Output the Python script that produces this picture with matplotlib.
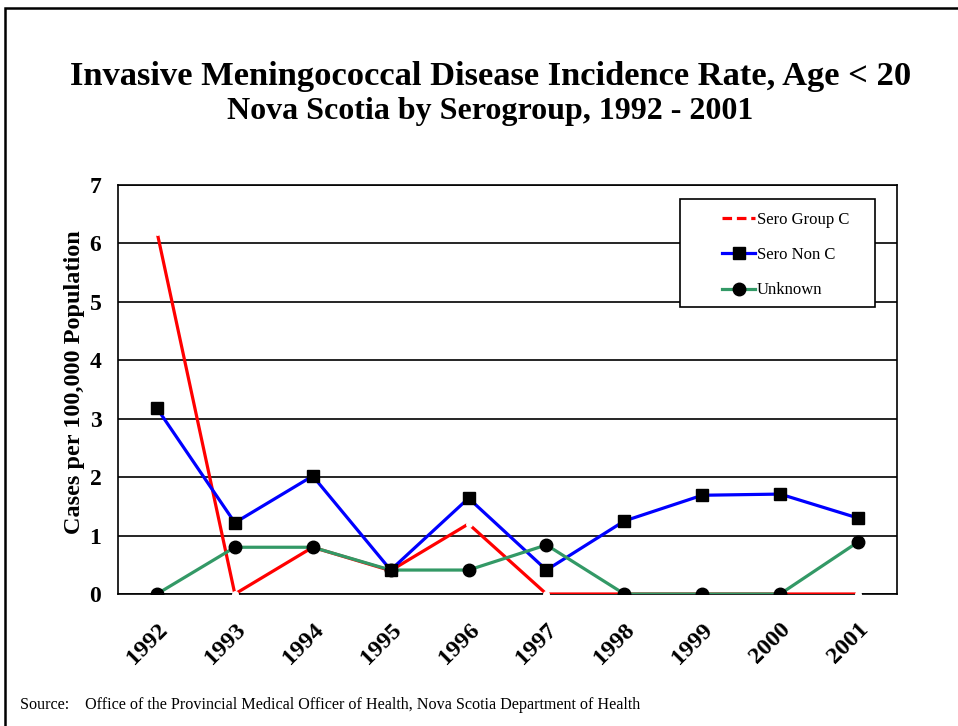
import numpy as np
import matplotlib
matplotlib.use("Agg")
import matplotlib.pyplot as plt
from matplotlib.lines import Line2D
from matplotlib.patches import Rectangle

# data
years = ["1992", "1993", "1994", "1995", "1996", "1997", "1998", "1999", "2000", "2001"]
sero_c = [6.2, 0.0, 0.8, 0.4, 1.2, 0.0, 0.0, 0.0, 0.0, 0.0]
sero_non_c = [3.18, 1.22, 2.02, 0.41, 1.64, 0.41, 1.25, 1.69, 1.71, 1.30]
unknown = [0.0, 0.80, 0.80, 0.41, 0.41, 0.84, 0.0, 0.0, 0.0, 0.89]

plt.rcParams['font.family'] = ['Liberation Serif', 'DejaVu Serif']

W, H = 958, 726
fig = plt.figure(figsize=(W / 100, H / 100), dpi=100)
ax = fig.add_axes([118 / W, 1 - 594 / H, 779 / W, 409 / H])

x = np.arange(len(years))

# Sero group C: solid red with small white gaps at the points
ax.plot(x, sero_c, color='#FF0000', lw=2.3, marker='o', ms=5,
        mfc='white', mec='white', mew=0, zorder=3)
ax.plot(x, sero_non_c, color='#0000FF', lw=2.3, marker='s', ms=8,
        mfc='black', mec='black', zorder=4)
ax.plot(x, unknown, color='#339966', lw=2.3, marker='o', ms=9,
        mfc='black', mec='black', zorder=5)

ax.set_xlim(-0.5, len(years) - 0.5)
ax.set_ylim(0, 7)
ax.set_yticks(range(0, 8))
ax.set_xticks(x)
ax.set_xticklabels(years, rotation=45, ha='right', va='top',
                   rotation_mode='anchor', fontsize=17.5, fontweight='bold')
for lab in ax.get_yticklabels():
    lab.set_fontsize(17)
    lab.set_fontweight('bold')
ax.tick_params(axis='both', length=0)
ax.tick_params(axis='x', pad=18)
ax.tick_params(axis='y', pad=12)
ax.grid(axis='y', color='black', lw=1.2)
ax.set_axisbelow(True)
for s in ax.spines.values():
    s.set_linewidth(1.2)

ax.set_ylabel("Cases per 100,000 Population", fontsize=17.5, fontweight='bold', va='center')
ax.yaxis.set_label_coords(-43 / 779, (594 - 382) / 409)

# legend, frame drawn separately
handles = [
    Line2D([], [], color='#FF0000', lw=2.3, ls=(0, (3, 1.5))),
    Line2D([], [], color='#0000FF', lw=2.3, marker='s', ms=8, mfc='black', mec='black'),
    Line2D([], [], color='#339966', lw=2.3, marker='o', ms=9, mfc='black', mec='black'),
]
leg = ax.legend(handles, ["Sero Group C", "Sero Non C", "Unknown"],
                loc='upper left', fontsize=12, frameon=False, handlelength=2.0,
                labelspacing=1.15, borderpad=0, handletextpad=0.1, borderaxespad=0)
leg.set_bbox_to_anchor(((722 - 118) / 779, (594 - 212) / 409), transform=ax.transAxes)
ax.add_patch(Rectangle(((680 - 118) / 779, (594 - 307) / 409), 195 / 779, 108 / 409,
                       transform=ax.transAxes, facecolor='white', edgecolor='black',
                       lw=1.2, zorder=6))
leg.set_zorder(7)

# titles
fig.text(490.5 / W, 1 - 77 / H, "Invasive Meningococcal Disease Incidence Rate, Age < 20",
         ha='center', va='center', fontsize=24.8, fontweight='bold')
fig.text(490 / W, 1 - 112 / H, "Nova Scotia by Serogroup, 1992 - 2001",
         ha='center', va='center', fontsize=23, fontweight='bold')

fig.text(20 / W, 1 - 705 / H,
         "Source:    Office of the Provincial Medical Officer of Health, Nova Scotia Department of Health",
         ha='left', va='center', fontsize=11.6)

# outer frame
fig.patches.append(Rectangle((5 / W, -0.1), 1.2, 1.1 - 8 / H, transform=fig.transFigure,
                             fill=False, edgecolor='black', lw=1.8))

fig.savefig("out.png", dpi=100)
